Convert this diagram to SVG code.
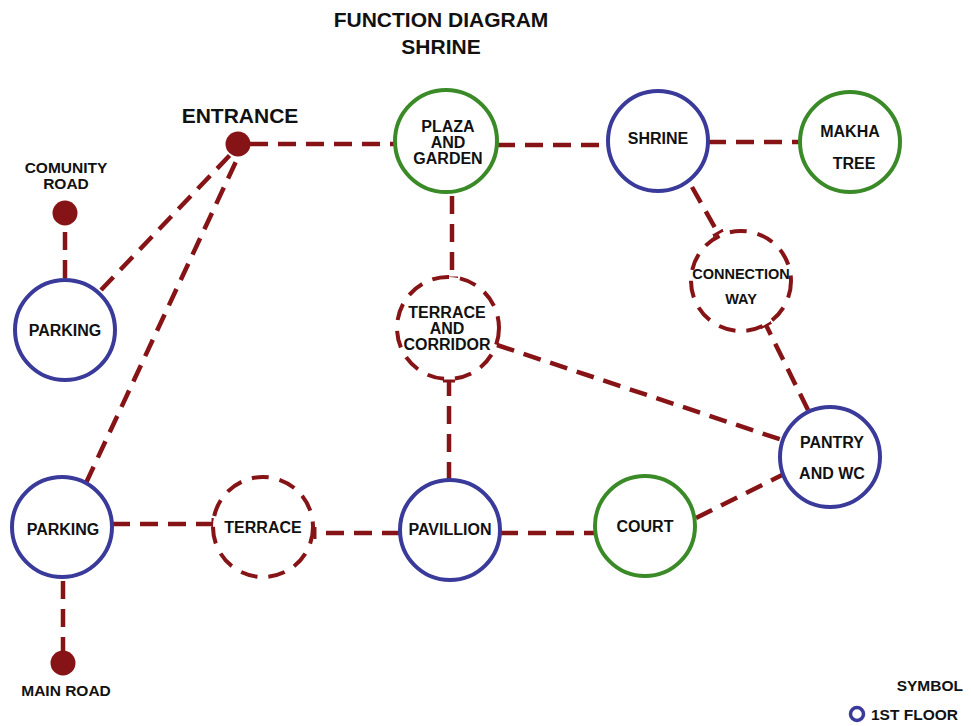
<svg xmlns="http://www.w3.org/2000/svg" width="971" height="726" viewBox="0 0 971 726">
<style>
text{font-family:"Liberation Sans",Arial,sans-serif;font-weight:bold;fill:#111;text-anchor:middle}
.t{font-size:16px}
.s{font-size:15.5px}
.h{font-size:21px}
.node{fill:#fff;stroke-width:4}
.blue{stroke:#3a3a9a}
.green{stroke:#3a8a28}
.dash{stroke:#861416;stroke-dasharray:17 11}
.dot{fill:#861416}
.c line{stroke:#861416;stroke-width:4.5;stroke-dasharray:18 10}
</style>
<defs>
<marker id="tee" viewBox="-2 -6 4 12" markerWidth="4" markerHeight="12" markerUnits="userSpaceOnUse" orient="auto" refX="0" refY="0">
<rect x="-1.5" y="-6" width="3" height="12" fill="#861416"/>
</marker>
</defs>
<rect width="971" height="726" fill="#fff"/>
<text class="h" x="441" y="27">FUNCTION DIAGRAM</text>
<text class="h" x="441" y="54">SHRINE</text>
<g class="c" id="connectors">
<line x1="250" y1="144" x2="394" y2="144"/>
<line x1="497" y1="145" x2="608" y2="145"/>
<line x1="708" y1="142" x2="800" y2="142"/>
<line x1="692" y1="187" x2="718" y2="233" marker-end="url(#tee)"/>
<line x1="452" y1="196" x2="452" y2="278" marker-end="url(#tee)"/>
<line x1="449" y1="480" x2="449" y2="381" marker-end="url(#tee)"/>
<line x1="497" y1="345" x2="782" y2="440"/>
<line x1="808" y1="410" x2="766" y2="325" marker-end="url(#tee)"/>
<line x1="696" y1="518" x2="782" y2="475"/>
<line x1="500" y1="533" x2="595" y2="533"/>
<line x1="400" y1="533" x2="315" y2="533" marker-end="url(#tee)"/>
<line x1="112" y1="524" x2="213" y2="524" marker-end="url(#tee)"/>
<line x1="63" y1="581" x2="63" y2="651"/>
<line x1="65" y1="232" x2="65" y2="280"/>
<line x1="101" y1="290" x2="232" y2="153"/>
<line x1="86" y1="483" x2="239" y2="155"/>
</g>
<g id="entrance"><circle class="dot" cx="238" cy="144" r="12.5"/><text class="h" x="240" y="123">ENTRANCE</text></g>
<g id="community-road"><circle class="dot" cx="65" cy="213" r="12.5"/><text class="s" x="66" y="173">COMUNITY</text><text class="s" x="66" y="189">ROAD</text></g>
<g id="main-road"><circle class="dot" cx="63" cy="663" r="12.5"/><text class="s" x="66" y="696">MAIN ROAD</text></g>
<g id="parking1"><circle class="node blue" cx="65" cy="330" r="50"/><text class="t" x="65" y="336">PARKING</text></g>
<g id="parking2"><circle class="node blue" cx="62" cy="527" r="50"/><text class="t" x="63" y="535">PARKING</text></g>
<g id="plaza"><circle class="node green" cx="446" cy="141" r="51"/><text class="t" x="448" y="132">PLAZA</text><text class="t" x="448" y="148">AND</text><text class="t" x="448" y="164">GARDEN</text></g>
<g id="shrine"><circle class="node blue" cx="658" cy="141" r="50"/><text class="t" x="658" y="144">SHRINE</text></g>
<g id="makha"><circle class="node green" cx="850" cy="142" r="50"/><text class="t" x="850" y="137">MAKHA</text><text class="t" x="854" y="169">TREE</text></g>
<g id="connection-way"><circle class="node dash" cx="741" cy="281" r="50"/><text x="741" y="279" style="font-size:14.5px">CONNECTION</text><text x="741" y="304" style="font-size:14.5px">WAY</text></g>
<g id="terrace-corridor"><circle class="node dash" cx="448" cy="328" r="51"/><text class="t" x="447" y="318">TERRACE</text><text class="t" x="447" y="334">AND</text><text class="t" x="447" y="350">CORRIDOR</text></g>
<g id="pantry"><circle class="node blue" cx="830" cy="457" r="50"/><text class="t" x="832" y="448">PANTRY</text><text class="t" x="832" y="479">AND WC</text></g>
<g id="pavillion"><circle class="node blue" cx="450" cy="530" r="50"/><text class="t" x="450" y="535">PAVILLION</text></g>
<g id="court"><circle class="node green" cx="645" cy="526" r="50"/><text class="t" x="645" y="532">COURT</text></g>
<g id="terrace"><circle class="node dash" cx="263" cy="527" r="50"/><text class="t" x="263" y="533">TERRACE</text></g>
<g id="legend"><text class="s" x="963" y="691" style="text-anchor:end">SYMBOL</text><circle cx="857" cy="714" r="6.5" fill="none" stroke="#3a3a9a" stroke-width="3.5"/><text class="s" x="871" y="720" style="text-anchor:start">1ST FLOOR</text></g>
</svg>
